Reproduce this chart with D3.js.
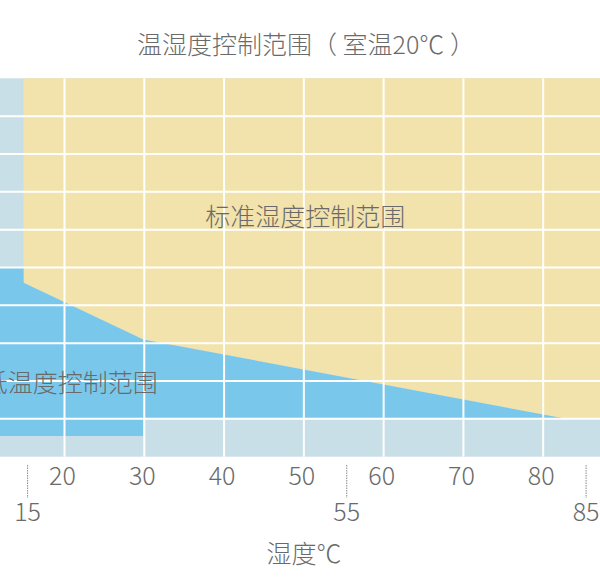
<!DOCTYPE html>
<html><head><meta charset="utf-8">
<script src="https://cdn.jsdelivr.net/npm/d3@7"></script>
<style>
html,body{margin:0;padding:0;background:#fff;}
svg{display:block;}
text{font-family:"Noto Sans CJK SC","Noto Sans",sans-serif;font-weight:300;fill:#6a6a6a;white-space:pre;}
</style></head>
<body>
<svg id="chart" width="600" height="579"></svg>
<script>
// ---- data ----
const titleText = "温湿度控制范围（ 室温20℃ ）";
const xAxisTitle = "湿度℃";
const xTickLabels = [20, 30, 40, 50, 60, 70, 80];
const xMarkerTicks = [15, 55, 85];
const xGridValues = [10, 20, 30, 40, 50, 60, 70, 80, 90];
const yGridValues = [10, 20, 30, 40, 50, 60, 70, 80, 90];
const plotX = [10, 90];
const plotY = [0, 100];
// standard humidity control range (yellow)
const standardRange = [[15,100],[90,100],[90,10],[83,10],[30,31],[15,46]];
// low range (blue)
const lowRange = [[10,50],[15,50],[15,46],[30,31],[83,10],[30,10],[30,5.5],[10,5.5]];
const standardLabel = {text:"标准湿度控制范围", x:50.3, y:64};
const lowLabel = {text:"低温度控制范围", x:31.8, y:20};

// ---- drawing ----
const svg = d3.select("#chart");
const x = d3.scaleLinear().domain([20, 80]).range([63.5, 542.2]);
const y = d3.scaleLinear().domain([0, 100]).range([456.7, 78.3]);

svg.append("text").attr("x", 306).attr("y", 43)
  .attr("text-anchor","middle").attr("dominant-baseline","central")
  .attr("xml:space","preserve")
  .style("font-size","25px").text(titleText);

svg.append("rect")
  .attr("x", x(plotX[0])).attr("y", y(plotY[1]))
  .attr("width", x(plotX[1]) - x(plotX[0])).attr("height", y(plotY[0]) - y(plotY[1]))
  .attr("fill", "#c9dfe7");

const line = d3.line().x(d => x(d[0])).y(d => y(d[1]));
svg.append("path").attr("d", line(standardRange) + "Z").attr("fill", "#f2e2ab");
svg.append("path").attr("d", line(lowRange) + "Z").attr("fill", "#79c8ec");

svg.append("g").selectAll("line").data(yGridValues).join("line")
  .attr("x1", x(plotX[0])).attr("x2", x(plotX[1]))
  .attr("y1", d => y(d)).attr("y2", d => y(d))
  .attr("stroke", "#fff").attr("stroke-width", 2);
svg.append("g").selectAll("line").data(xGridValues).join("line")
  .attr("x1", d => x(d) + 1).attr("x2", d => x(d) + 1)
  .attr("y1", y(plotY[1])).attr("y2", y(plotY[0]))
  .attr("stroke", "#fff").attr("stroke-width", 2);

svg.append("text").attr("x", x(standardLabel.x)).attr("y", y(standardLabel.y))
  .attr("text-anchor","middle").attr("dominant-baseline","central")
  .style("font-size","25px").text(standardLabel.text);
svg.append("text").attr("x", x(lowLabel.x)).attr("y", y(lowLabel.y))
  .attr("text-anchor","end").attr("dominant-baseline","central")
  .style("font-size","25px").text(lowLabel.text);

svg.append("g").selectAll("text").data(xTickLabels).join("text")
  .attr("x", d => x(d) - 1).attr("y", 485)
  .attr("text-anchor","middle").style("font-size","25px").text(d => d);

const mk = svg.append("g").selectAll("g").data(xMarkerTicks).join("g")
  .attr("transform", d => `translate(${x(d) + 4},0)`);
mk.append("line").attr("y1", 465).attr("y2", 498)
  .attr("stroke", "#888").attr("stroke-width", 1).attr("stroke-dasharray", "1.5,1");
mk.append("text").attr("y", 521).attr("text-anchor","middle")
  .style("font-size","25px").text(d => d);

svg.append("text").attr("x", 304).attr("y", 552)
  .attr("text-anchor","middle").attr("dominant-baseline","central")
  .style("font-size","25px").text(xAxisTitle);
</script>
</body></html>
